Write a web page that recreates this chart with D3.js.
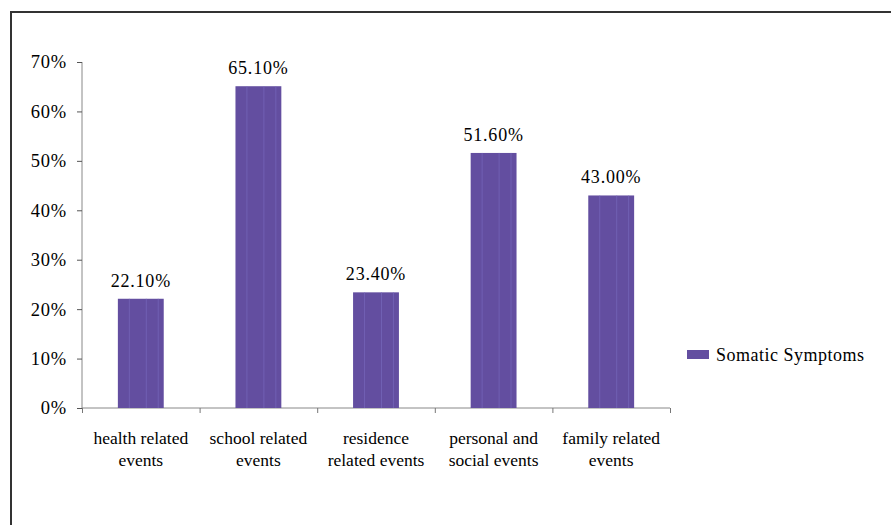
<!DOCTYPE html>
<html><head><meta charset="utf-8">
<script src="https://cdn.jsdelivr.net/npm/d3@7"></script>
<style>body{margin:0;background:#fff}svg{display:block}text{font-family:"Liberation Serif","Times New Roman",serif;fill:#000}</style>
</head><body><svg id="c" width="891" height="525"></svg>
<script>
const categories = [["health related","events"],["school related","events"],["residence","related events"],["personal and","social events"],["family related","events"]];
const values = [22.1, 65.1, 23.4, 51.6, 43.0];
const valueLabels = ["22.10%","65.10%","23.40%","51.60%","43.00%"];
const yTicks = [0,10,20,30,40,50,60,70];
const seriesName = "Somatic Symptoms";

const svg = d3.select("#c");
svg.append("rect").attr("x",11).attr("y",12).attr("width",900).attr("height",540)
  .attr("fill","none").attr("stroke","#333").attr("stroke-width",2);

const x = d3.scaleBand().domain(d3.range(values.length)).range([82,670]).paddingInner(0.61).paddingOuter(0.305);
const y = d3.scaleLinear().domain([0,70]).range([408,62]);
const color = "#634ea0";

// y axis
const ya = svg.append("g").attr("transform","translate(82,0)")
  .call(d3.axisLeft(y).tickValues(yTicks).tickFormat(d=>d+"%").tickSize(5));
ya.select(".domain").attr("stroke","#888").attr("d","M0,62V408");
ya.selectAll(".tick line").attr("stroke","#555");
ya.selectAll(".tick text").attr("font-size",18.5).attr("letter-spacing",0.8).attr("x",-15)
  .attr("font-family","Liberation Serif").attr("fill","#000");

// x axis
const xb = d3.scaleLinear().domain([0,values.length]).range([82,670]);
const xa = svg.append("g").attr("transform","translate(0,408)")
  .call(d3.axisBottom(xb).tickValues(d3.range(values.length+1)).tickFormat("").tickSize(5));
xa.select(".domain").attr("stroke","#888").attr("d","M82,0H670");
xa.selectAll(".tick line").attr("stroke","#777");

// bars
svg.selectAll(".bar").data(values).join("rect")
  .attr("x",(d,i)=>x(i)).attr("y",d=>y(d)).attr("width",x.bandwidth()).attr("height",d=>y(0)-y(d))
  .attr("fill",color);
// subtle stripes
[0.25,0.62,0.88].forEach(f=>{
  svg.selectAll(null).data(values).join("line")
    .attr("x1",(d,i)=>x(i)+x.bandwidth()*f).attr("x2",(d,i)=>x(i)+x.bandwidth()*f)
    .attr("y1",d=>y(d)).attr("y2",y(0)).attr("stroke","#7a6cc0").attr("stroke-width",1).attr("opacity",0.6);
});

// value labels
svg.selectAll(".vl").data(values).join("text")
  .attr("x",(d,i)=>x(i)+x.bandwidth()/2).attr("y",d=>y(d)-12)
  .attr("text-anchor","middle").attr("font-size",18).attr("letter-spacing",0.8).text((d,i)=>valueLabels[i]);

// category labels
categories.forEach((c,i)=>{
  const t = svg.append("text").attr("text-anchor","middle").attr("font-size",17.5)
    .attr("x",x(i)+x.bandwidth()/2).attr("y",444);
  c.forEach((ln,j)=>t.append("tspan").attr("x",x(i)+x.bandwidth()/2).attr("dy",j?22:0).text(ln));
});

// legend
svg.append("rect").attr("x",687).attr("y",350).attr("width",22).attr("height",9).attr("fill",color);
svg.append("text").attr("x",716).attr("y",361).attr("font-size",18).attr("letter-spacing",0.5).text(seriesName);
</script></body></html>
